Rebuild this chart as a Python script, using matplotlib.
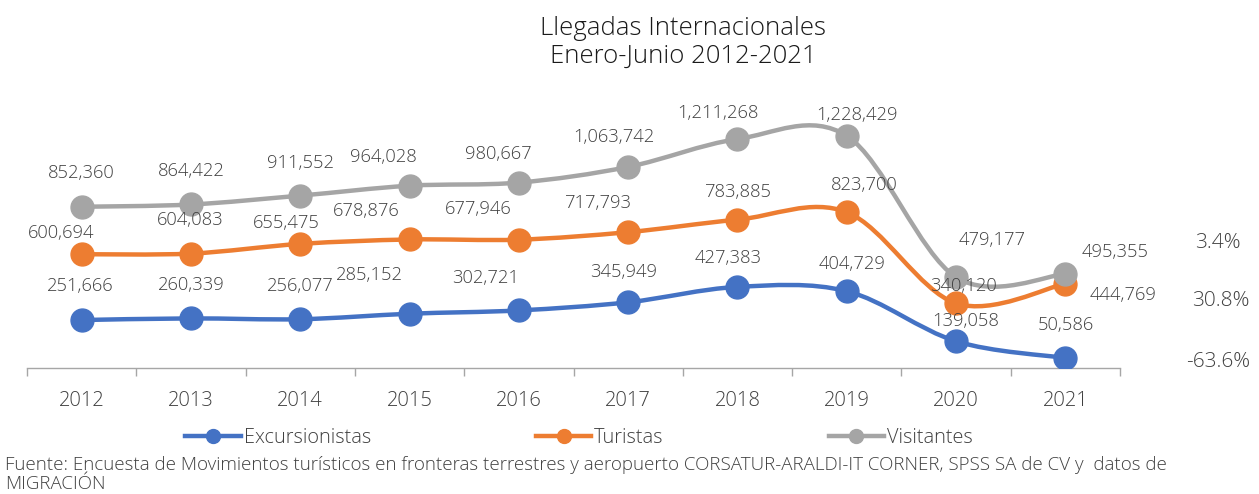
import numpy as np
import matplotlib
matplotlib.use('Agg')
import matplotlib.pyplot as plt
from matplotlib.path import Path
from matplotlib.patches import PathPatch
from matplotlib.lines import Line2D

plt.rcParams['font.family'] = ['Open Sans', 'DejaVu Sans']
plt.rcParams['font.weight'] = 'light'

# data
years = ['2012', '2013', '2014', '2015', '2016', '2017', '2018', '2019', '2020', '2021']
excursionistas = [251666, 260339, 256077, 285152, 302721, 345949, 427383, 404729, 139058, 50586]
turistas = [600694, 604083, 655475, 678876, 677946, 717793, 783885, 823700, 340120, 444769]
visitantes = [852360, 864422, 911552, 964028, 980667, 1063742, 1211268, 1228429, 479177, 495355]

series_names = ['Excursionistas', 'Turistas', 'Visitantes']
colors = ['#4472C4', '#ED7D31', '#A5A5A5']

# label offsets in pixels (dx, dy), y up
offs_exc = [(-1, 34), (0, 33), (0, 33), (-40, 39), (-33, 32), (-5, 30), (-9, 29), (5, 27), (10, 20), (1, 33)]
offs_tur = [(-21, 21), (-1, 34), (-14, 21), (-43, 28), (-41, 31), (-30, 29), (1, 28), (17, 27), (7, 17), (58, -11)]
offs_vis = [(0, 34), (0, 33), (0, 33), (-26, 29), (-21, 29), (-14, 30), (-20, 26), (10, 21), (36, 37), (50, 22)]
pct_pos = [(1186, 362), (1192, 301), (1195, 243)]

txt_col = '#404040'


def smooth_path(xs, ys):
    # Catmull-Rom as cubic bezier (Excel-like smoothed line)
    pts = np.column_stack([xs, ys]).astype(float)
    n = len(pts)
    verts = [pts[0]]
    codes = [Path.MOVETO]
    for i in range(n - 1):
        p0 = pts[i - 1] if i > 0 else pts[i]
        p1 = pts[i]
        p2 = pts[i + 1]
        p3 = pts[i + 2] if i + 2 < n else pts[i + 1]
        c1 = p1 + (p2 - p0) / 6.0
        c2 = p2 - (p3 - p1) / 6.0
        verts += [c1, c2, p2]
        codes += [Path.CURVE4] * 3
    return Path(verts, codes)


fig = plt.figure(figsize=(12.59, 4.94), dpi=100)
ax = fig.add_axes([27 / 1259, 1 - 367.5 / 494, (1120 - 27) / 1259, (367.5 - 103.5) / 494])

x = np.arange(len(years))
all_series = [excursionistas, turistas, visitantes]
all_offs = [offs_exc, offs_tur, offs_vis]
for vals, col, offs in zip(all_series, colors, all_offs):
    ax.add_patch(PathPatch(smooth_path(x, vals), facecolor='none', edgecolor=col, lw=3.2,
                           capstyle='round', zorder=2))
    ax.plot(x, vals, 'o', color=col, ms=16.5, zorder=3, mec=col)
    for xi, v, (dx, dy) in zip(x, vals, offs):
        ax.annotate(f'{v:,}', (xi, v), xytext=(dx, dy), textcoords='offset pixels',
                    ha='center', va='center', fontsize=13.2, color=txt_col,
                    zorder=4)

ax.set_xlim(-0.5, len(years) - 0.5)
ax.set_ylim(0, 1400000)
ax.set_yticks([])
ax.set_xticks(x)
ax.set_xticklabels(years, fontsize=14.5, color=txt_col)
ax.set_xticks(np.arange(-0.5, len(years)), minor=True)
ax.tick_params(axis='x', which='major', length=0, pad=17)
ax.tick_params(axis='x', which='minor', length=6, color='#a6a6a6', width=1)
for s in ['top', 'right', 'left']:
    ax.spines[s].set_visible(False)
ax.spines['bottom'].set_color('#a6a6a6')
ax.spines['bottom'].set_linewidth(1)

# title
fig.text(683 / 1259, 1 - 35 / 494, 'Llegadas Internacionales', ha='center', va='baseline',
         fontsize=18.5, color='#1a1a1a')
fig.text(683 / 1259, 1 - 63 / 494, 'Enero-Junio 2012-2021', ha='center', va='baseline',
         fontsize=18.5, color='#1a1a1a')

# change 2021 vs 2020
for vals, (px, py) in zip(all_series, pct_pos):
    pct = (vals[-1] / vals[-2] - 1) * 100
    fig.text(px / 1259, 1 - py / 494, f'{pct:.1f}%', ha='left', va='center',
             fontsize=15, color=txt_col)

# legend
handles = [Line2D([0], [0], color=c, lw=3.2, marker='o', ms=10) for c in colors]
leg = fig.legend(handles, series_names, loc='center', bbox_to_anchor=(579 / 1259, 1 - 438 / 494),
                 ncol=3, frameon=False, fontsize=14.3, handlelength=2.8, handletextpad=0.15,
                 columnspacing=8.3, borderpad=0)
for t in leg.get_texts():
    t.set_color(txt_col)

# footnote
fig.text(5 / 1259, 1 - 465 / 494,
         'Fuente: Encuesta de Movimientos turísticos en fronteras terrestres y aeropuerto '
         'CORSATUR-ARALDI-IT CORNER, SPSS SA de CV y  datos de', ha='left', va='center',
         fontsize=13.5, color=txt_col)
fig.text(5 / 1259, 1 - 484 / 494, 'MIGRACIÓN', ha='left', va='center',
         fontsize=13.5, color=txt_col)

fig.savefig('out.png', dpi=100)
